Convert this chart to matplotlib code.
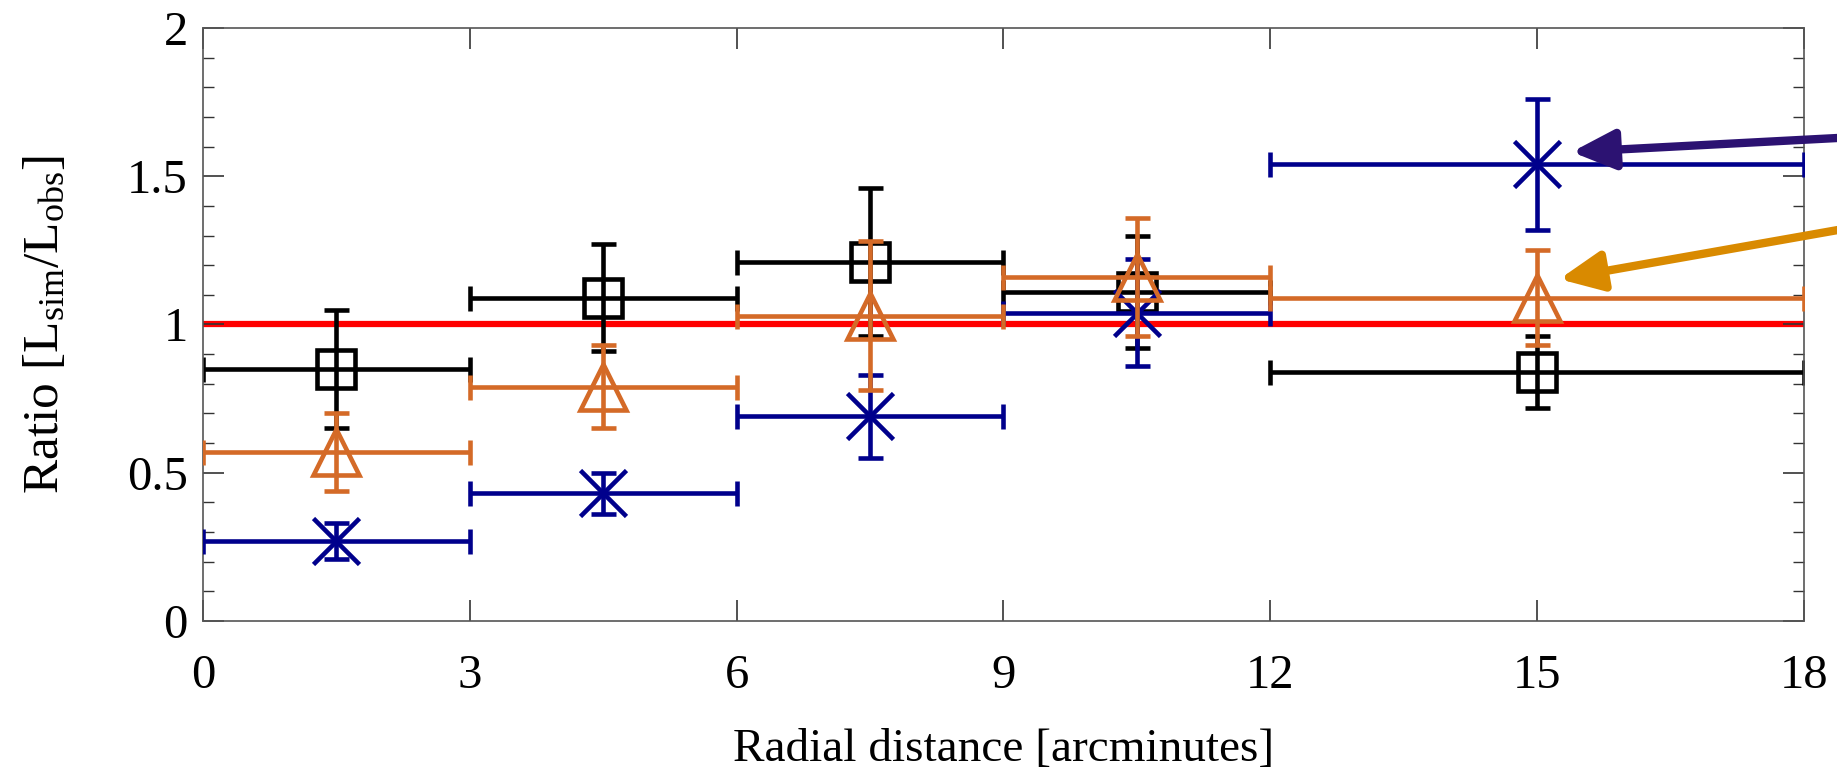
import matplotlib
matplotlib.use("Agg")
import matplotlib.pyplot as plt
import numpy as np

plt.rcParams['font.family'] = ['Liberation Serif', 'DejaVu Serif']
plt.rcParams['mathtext.fontset'] = 'custom'
plt.rcParams['mathtext.rm'] = 'Liberation Serif'
plt.rcParams['mathtext.it'] = 'Liberation Serif:italic'

# bins (x centres and half widths)
x_centres = [1.5, 4.5, 7.5, 10.5, 15.0]
x_halfwidth = [1.5, 1.5, 1.5, 1.5, 3.0]

black_vals = [0.85, 1.09, 1.21, 1.11, 0.84]
black_err = [0.20, 0.18, 0.25, 0.19, 0.12]

orange_vals = [0.57, 0.79, 1.03, 1.16, 1.09]
orange_err = [0.13, 0.14, 0.25, 0.20, 0.16]

blue_vals = [0.27, 0.43, 0.69, 1.04, 1.54]
blue_err = [0.06, 0.07, 0.14, 0.18, 0.22]

x_ticks = [0, 3, 6, 9, 12, 15, 18]
y_ticks = [0, 0.5, 1, 1.5, 2]
y_ticklabels = ['0', '0.5', '1', '1.5', '2']

BLACK = '#000000'
ORANGE = '#D46A27'
BLUE = '#00008C'
RED = '#FF0000'
ARROW_BLUE = '#2C1272'
ARROW_ORANGE = '#D98A00'

fig = plt.figure(figsize=(18.37, 7.74), dpi=100)
ax = fig.add_axes([0.1105, 0.1977, 0.8715, 0.7661])

ax.axhline(1.0, color=RED, lw=4.5, zorder=1)

common = dict(linestyle='none', elinewidth=3.3, capsize=9, capthick=3.3,
              markeredgewidth=3.3, markerfacecolor='none')
ax.errorbar(x_centres, black_vals, yerr=black_err, xerr=x_halfwidth,
            marker='s', markersize=28, color=BLACK, zorder=2, **common)
ax.errorbar(x_centres, blue_vals, yerr=blue_err, xerr=x_halfwidth,
            marker='x', markersize=33, color=BLUE, zorder=3, **common)
ax.errorbar(x_centres, orange_vals, yerr=orange_err, xerr=x_halfwidth,
            marker='^', markersize=33, color=ORANGE, zorder=4, **common)

# arrows pointing at the last bin markers (tails beyond the figure edge)
astyle = '-|>,head_length=1.3,head_width=0.6'
ax.annotate('', xy=(15.39, 1.582), xytext=(19.2, 1.642),
            arrowprops=dict(arrowstyle=astyle, mutation_scale=20, lw=6,
                            color=ARROW_BLUE, shrinkA=0, shrinkB=0),
            annotation_clip=False, zorder=6)
ax.annotate('', xy=(15.25, 1.153), xytext=(19.2, 1.362),
            arrowprops=dict(arrowstyle=astyle, mutation_scale=20, lw=6,
                            color=ARROW_ORANGE, shrinkA=0, shrinkB=0),
            annotation_clip=False, zorder=6)

ax.set_xlim(0, 18)
ax.set_ylim(0, 2)
ax.set_xticks(x_ticks)
ax.set_xticklabels([str(t) for t in x_ticks])
ax.set_yticks(y_ticks)
ax.set_yticklabels(y_ticklabels)
ax.set_yticks(np.arange(0, 2.01, 0.1), minor=True)

ax.tick_params(axis='both', which='major', direction='in', length=15, width=1.2,
               top=True, right=True, labelsize=35, color='#333333')
ax.tick_params(axis='x', which='major', pad=24)
ax.tick_params(axis='y', which='major', pad=11)
ax.tick_params(axis='y', which='minor', direction='in', length=8, width=1.0,
               left=True, right=True, color='#333333')
for s in ax.spines.values():
    s.set_color('#555555')
    s.set_linewidth(1.2)

ax.set_xlabel('Radial distance [arcminutes]', fontsize=34, labelpad=22)
ax.set_ylabel(r'Ratio [L$_{\rm sim}$/L$_{\rm obs}$]', fontsize=37, labelpad=42)

fig.savefig('out.png', dpi=100)
